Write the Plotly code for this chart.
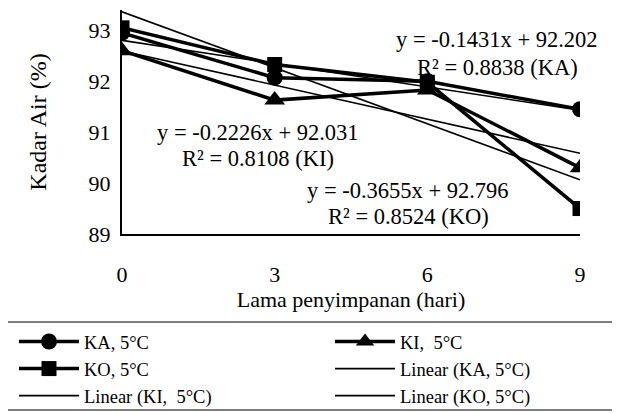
import numpy as np
import plotly.graph_objects as go

days = [0, 3, 6, 9]
tick_labels = ["0", "3", "6", "9"]
ka = [92.95, 92.07, 92.0, 91.45]
ki = [92.6, 91.63, 91.83, 90.3]
ko = [93.05, 92.33, 91.98, 89.5]

FONT = "Liberation Serif"
OFF = 8  # page body margin of the html page
W, H = 620 - OFF, 413 - OFF
# plot area edges in screenshot pixels
L, R, T, B = 122, 580, 10, 234


def px_x(px):
    return (px - L) / (R - L)


def px_y(py):
    return (B - py) / (B - T)


fig = go.Figure()


def add_series(name, vals, symbol, size, legend):
    fig.add_trace(go.Scatter(x=days, y=vals, name=name, mode="lines+markers", legend=legend,
                             line=dict(color="black", width=3.5),
                             marker=dict(symbol=symbol, size=size, color="black")))


def add_trend(name, vals, legend):
    coef = np.polyfit(days, vals, 1)
    fit = np.polyval(coef, days)
    fig.add_trace(go.Scatter(x=days, y=fit, name=name, mode="lines", legend=legend,
                             line=dict(color="black", width=1.6)))


add_series("KA, 5°C", ka, "circle", 16, "legend")
add_series("KI,  5°C", ki, "triangle-up", 18, "legend2")
add_series("KO, 5°C", ko, "square", 15, "legend")
add_trend("Linear (KA, 5°C)", ka, "legend2")
add_trend("Linear (KI,  5°C)", ki, "legend")
add_trend("Linear (KO, 5°C)", ko, "legend2")

annots = [
    (497, 40, "y = -0.1431x + 92.202"), (497, 67, "R² = 0.8838 (KA)"),
    (258, 132, "y = -0.2226x + 92.031"), (258, 158, "R² = 0.8108 (KI)"),
    (408, 190, "y = -0.3655x + 92.796"), (408, 216, "R² = 0.8524 (KO)"),
]
for px, py, txt in annots:
    fig.add_annotation(x=px_x(px), y=px_y(py), xref="paper", yref="paper",
                       xanchor="center", yanchor="middle",
                       text=txt, showarrow=False,
                       font=dict(family=FONT, size=22.5, color="black"))

# legend frame
fig.add_shape(type="rect", xref="paper", yref="paper",
              x0=px_x(5), x1=px_x(617), y0=px_y(322), y1=px_y(410),
              line=dict(color="black", width=1.2), fillcolor="rgba(0,0,0,0)")

leg_common = dict(orientation="v", xanchor="left", yanchor="top",
                  bgcolor="rgba(0,0,0,0)", borderwidth=0,
                  font=dict(family=FONT, size=18.5, color="black"), itemwidth=60,
                  tracegroupgap=0)

fig.update_layout(
    width=W, height=H,
    margin=dict(l=L - OFF, r=W - (R - OFF), t=T - OFF, b=H - (B - OFF), autoexpand=False),
    paper_bgcolor="white", plot_bgcolor="white",
    font=dict(family=FONT, size=20, color="black"),
    showlegend=True,
    legend=dict(x=px_x(14), y=px_y(323), **leg_common),
    legend2=dict(x=px_x(330), y=px_y(323), **leg_common),
)
fig.update_xaxes(range=[0, 9], tickvals=days, ticktext=tick_labels, showgrid=False,
                 zeroline=False, showline=True, linecolor="black", linewidth=2,
                 ticks="outside", ticklen=20, tickcolor="rgba(0,0,0,0)",
                 tickfont=dict(size=22),
                 title=dict(text="Lama penyimpanan (hari)", font=dict(size=22), standoff=4))
fig.update_yaxes(range=[89, 93.4], tickvals=[89, 90, 91, 92, 93], showgrid=False,
                 zeroline=False, showline=True, linecolor="black", linewidth=2,
                 ticks="outside", ticklen=5, tickcolor="rgba(0,0,0,0)",
                 tickfont=dict(size=22),
                 title=dict(text="Kadar Air (%)", font=dict(size=24), standoff=35))

fig.write_html("out.html")
